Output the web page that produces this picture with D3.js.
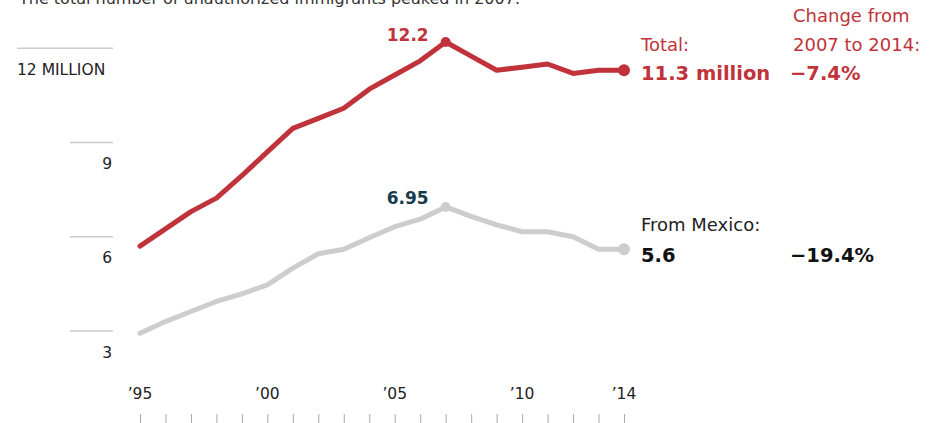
<!DOCTYPE html>
<html>
<head>
<meta charset="utf-8">
<script src="https://cdn.jsdelivr.net/npm/d3@7"></script>
<style>
  html, body { margin: 0; padding: 0; background: #fff; }
  svg { display: block; font-family: "DejaVu Sans", sans-serif; }
</style>
</head>
<body>
<div id="chart"></div>
<script>
// Unauthorized immigrant population, millions
const years = d3.range(1995, 2015);
const totalValues = [5.7, 6.25, 6.8, 7.23, 7.95, 8.7, 9.45, 9.77, 10.09, 10.7, 11.15, 11.6, 12.2, 11.75, 11.3, 11.4, 11.5, 11.2, 11.3, 11.3];
const mexicoValues = [2.93, 3.3, 3.62, 3.94, 4.18, 4.47, 5.0, 5.46, 5.6, 5.97, 6.32, 6.56, 6.95, 6.65, 6.38, 6.16, 6.16, 6.0, 5.6, 5.6];
const yTicks = [3, 6, 9, 12];
const xLabelYears = [1995, 2000, 2005, 2010, 2014];
const peakYear = 2007;

const width = 929;
const height = 423;
const RED = "#c0333b";
const GRAY = "#cdcdcd";
const NAVY = "#173a4d";

const x = d3.scaleLinear().domain([1995, 2014]).range([140, 624]);
const y = d3.scaleLinear().domain([3, 12]).range([331, 48.3]);

const svg = d3.select("#chart")
  .append("svg")
  .attr("width", width)
  .attr("height", height)
  .attr("viewBox", [0, 0, width, height]);

// Title, cut off at the top edge
svg.append("text")
  .attr("x", 19)
  .attr("y", 4)
  .attr("fill", "#333")
  .style("font-size", "16px")
  .text("The total number of unauthorized immigrants peaked in 2007.");

// Y gridlines with labels sitting under them
const yAxis = svg.append("g").attr("class", "y-axis");

yAxis.selectAll("line")
  .data(yTicks)
  .join("line")
  .attr("x1", d => d === 12 ? 17 : 70)
  .attr("x2", 113)
  .attr("y1", d => y(d))
  .attr("y2", d => y(d))
  .attr("stroke", "#ccc")
  .attr("stroke-width", 1.5);

yAxis.selectAll("text")
  .data(yTicks)
  .join("text")
  .attr("x", d => d === 12 ? 17 : 112)
  .attr("y", d => y(d) + 26.5)
  .attr("text-anchor", d => d === 12 ? "start" : "end")
  .attr("fill", "#222")
  .style("font-size", "15.5px")
  .text(d => d === 12 ? "12 MILLION" : d);

// X axis: year labels and small ticks along the bottom
svg.append("g")
  .attr("transform", "translate(0,414)")
  .call(d3.axisBottom(x).tickValues(years).tickSize(9).tickFormat(""))
  .call(g => g.select(".domain").remove())
  .call(g => g.selectAll(".tick line").attr("stroke", "#aaa"));

svg.append("g")
  .selectAll("text")
  .data(xLabelYears)
  .join("text")
  .attr("x", d => x(d))
  .attr("y", 399)
  .attr("text-anchor", "middle")
  .attr("fill", "#222")
  .style("font-size", "15.5px")
  .text(d => "\u2019" + String(d).slice(2));

// Lines
const line = d3.line()
  .x((d, i) => x(years[i]))
  .y(d => y(d));

const series = [
  { values: mexicoValues, color: GRAY },
  { values: totalValues, color: RED },
];

svg.append("g")
  .selectAll("path")
  .data(series)
  .join("path")
  .attr("d", d => line(d.values))
  .attr("fill", "none")
  .attr("stroke", d => d.color)
  .attr("stroke-width", 5)
  .attr("stroke-linejoin", "round")
  .attr("stroke-linecap", "round");

// Peak and end dots
const peakIdx = years.indexOf(peakYear);
const lastIdx = years.length - 1;

series.forEach(s => {
  svg.append("circle")
    .attr("cx", x(peakYear))
    .attr("cy", y(s.values[peakIdx]))
    .attr("r", 5)
    .attr("fill", s.color);
  svg.append("circle")
    .attr("cx", x(years[lastIdx]))
    .attr("cy", y(s.values[lastIdx]))
    .attr("r", 6)
    .attr("fill", s.color);
});

// Peak labels
svg.append("text")
  .attr("x", x(peakYear) - 17)
  .attr("y", y(totalValues[peakIdx]) - 1)
  .attr("text-anchor", "end")
  .attr("fill", RED)
  .style("font-size", "17px")
  .style("font-weight", "bold")
  .text(d3.format(".1f")(totalValues[peakIdx]));

svg.append("text")
  .attr("x", x(peakYear) - 17)
  .attr("y", y(mexicoValues[peakIdx]) - 3)
  .attr("text-anchor", "end")
  .attr("fill", NAVY)
  .style("font-size", "17px")
  .style("font-weight", "bold")
  .text(d3.format(".2f")(mexicoValues[peakIdx]));

// Right-hand annotations
const pctChange = v => (v[lastIdx] - v[peakIdx]) / v[peakIdx];
const fmtPct = d3.format(".1%");
const minus = s => s.replace("-", "\u2212");

const notes = [
  { x: 793, y: 22, text: "Change from", color: RED, bold: false },
  { x: 793, y: 51, text: "2007 to 2014:", color: RED, bold: false },
  { x: 641, y: 51, text: "Total:", color: RED, bold: false },
  { x: 641, y: 80, text: totalValues[lastIdx].toFixed(1) + " million", color: RED, bold: true },
  { x: 790, y: 80, text: minus(fmtPct(pctChange(totalValues) - 0.0005)), color: RED, bold: true },
  { x: 641, y: 231, text: "From Mexico:", color: "#222", bold: false },
  { x: 641, y: 262, text: mexicoValues[lastIdx].toFixed(1), color: "#111", bold: true },
  { x: 790, y: 262, text: minus("-19.4%"), color: "#111", bold: true },
];

svg.append("g")
  .selectAll("text")
  .data(notes)
  .join("text")
  .attr("x", d => d.x)
  .attr("y", d => d.y)
  .attr("fill", d => d.color)
  .style("font-size", d => d.bold ? "19.5px" : "18px")
  .style("font-weight", d => d.bold ? "bold" : "normal")
  .text(d => d.text);
</script>
</body>
</html>
